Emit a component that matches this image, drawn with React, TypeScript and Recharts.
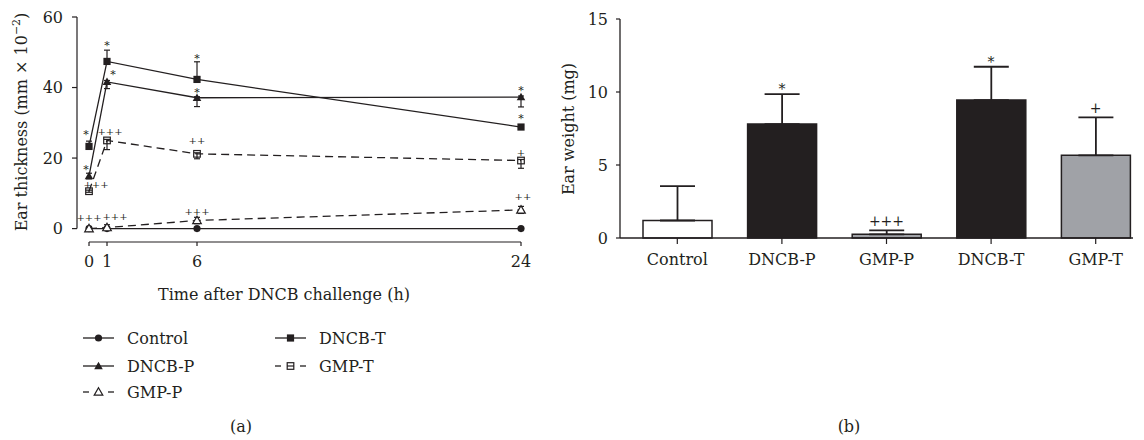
import React from "react";
import {
  LineChart,
  Line,
  XAxis,
  YAxis,
  ErrorBar,
  LabelList,
  ReferenceLine,
  ComposedChart,
  Bar,
  Cell,
} from "recharts";

const FONT = '"DejaVu Serif", "Liberation Serif", serif';
const INK = "#231f20";
const GREY = "#a0a2a7";

// (a) ear thickness, mm x 10^-2
const hours = [0, 1, 6, 24];
const thicknessTicks = [0, 20, 40, 60];

const controlThickness = [0, 0, 0, 0];
const dncbPThickness = [14.9, 41.6, 37.1, 37.3];
const gmpPThickness = [0, 0.3, 2.3, 5.3];
const dncbTThickness = [23.3, 47.4, 42.3, 28.8];
const gmpTThickness = [10.6, 25.0, 21.2, 19.3];

// error as [below, above]
const controlThicknessErr = [[0, 0], [0, 0], [0, 0], [0, 0]];
const dncbPThicknessErr = [[0.8, 0.8], [1.9, 0.4], [2.5, 0.3], [2.8, 0.3]];
const gmpPThicknessErr = [[0.6, 0.6], [0.8, 0.8], [0.9, 0.9], [1.0, 1.0]];
const dncbTThicknessErr = [[0.3, 1.5], [0.3, 3.2], [0.3, 5.0], [0.4, 0.4]];
const gmpTThicknessErr = [[0.3, 0.3], [2.6, 0.3], [1.4, 0.3], [2.2, 0.3]];

const controlMarks = ["", "", "", ""];
const dncbPMarks = ["*", "*", "*", "*"];
const gmpPMarks = ["+++", "+++", "+++", "++"];
const dncbTMarks = ["*", "*", "*", "*"];
const gmpTMarks = ["+++", "+++", "++", "+"];

// (b) ear weight, mg
const groups = ["Control", "DNCB-P", "GMP-P", "DNCB-T", "GMP-T"];
const weightTicks = [0, 5, 10, 15];
const weightMean = [1.2, 7.8, 0.25, 9.45, 5.66];
const weightErr = [2.35, 2.05, 0.27, 2.28, 2.6];
const weightMarks = ["", "*", "+++", "*", "+"];

// styling, not data
const barFills = ["#ffffff", INK, GREY, INK, GREY];
// annotation placement relative to each point, px
const markOffsets: Record<string, number[][]> = {
  control: [[0, 0], [0, 0], [0, 0], [0, 0]],
  dncbP: [[-3, -10], [6, -10], [0, -8], [0, -10]],
  gmpP: [[0, -11], [8, -11], [0, -9], [2, -13]],
  dncbT: [[-3, -15], [0, -19], [0, -24], [0, -12]],
  gmpT: [[7, -7], [3, -9], [0, -13], [0, -8]],
};

type Kind = "circle" | "triangle" | "triangleOpen" | "square" | "squareOpen";

interface Series {
  key: string;
  name: string;
  mean: number[];
  err: number[][];
  marks: string[];
  dashed: boolean;
  marker: Kind;
}

const series: Series[] = [
  { key: "control", name: "Control", mean: controlThickness, err: controlThicknessErr, marks: controlMarks, dashed: false, marker: "circle" },
  { key: "dncbP", name: "DNCB-P", mean: dncbPThickness, err: dncbPThicknessErr, marks: dncbPMarks, dashed: false, marker: "triangle" },
  { key: "gmpP", name: "GMP-P", mean: gmpPThickness, err: gmpPThicknessErr, marks: gmpPMarks, dashed: true, marker: "triangleOpen" },
  { key: "dncbT", name: "DNCB-T", mean: dncbTThickness, err: dncbTThicknessErr, marks: dncbTMarks, dashed: false, marker: "square" },
  { key: "gmpT", name: "GMP-T", mean: gmpTThickness, err: gmpTThicknessErr, marks: gmpTMarks, dashed: true, marker: "squareOpen" },
];

const legendColumns = [["control", "dncbP", "gmpP"], ["dncbT", "gmpT"]];

const thicknessData = hours.map((h, i) => {
  const row: Record<string, any> = { hour: h };
  series.forEach((s) => {
    row[s.key] = s.mean[i];
    row[s.key + "Err"] = s.err[i];
  });
  return row;
});

const weightData = groups.map((g, i) => ({
  group: g,
  weight: weightMean[i],
  weightErr: [0, weightErr[i]],
  capTop: weightMean[i] + weightErr[i],
  mark: weightMarks[i],
}));

const X_MIN = -0.667;
const Y_MIN = -3.8;

function Marker({ kind, cx, cy }: { kind: Kind; cx: number; cy: number }) {
  const tri = `M${cx},${cy - 4.3}L${cx + 4.3},${cy + 3.2}L${cx - 4.3},${cy + 3.2}Z`;
  switch (kind) {
    case "circle":
      return <circle cx={cx} cy={cy} r={3.6} fill={INK} />;
    case "triangle":
      return <path d={tri} fill={INK} />;
    case "triangleOpen":
      return <path d={tri} fill="#fff" stroke={INK} strokeWidth={1.2} />;
    case "square":
      return <rect x={cx - 3.6} y={cy - 3.6} width={7.2} height={7.2} fill={INK} />;
    default:
      return <rect x={cx - 3.3} y={cy - 3.3} width={6.6} height={6.6} fill="none" stroke={INK} strokeWidth={1.2} />;
  }
}

function ThicknessLegend() {
  const colX = [83, 275];
  const rowY = [338, 366, 392];
  return (
    <svg width={560} height={440} style={{ position: "absolute", left: 0, top: 0, pointerEvents: "none" }}>
      {legendColumns.map((col, ci) =>
        col.map((key, ri) => {
          const s = series.find((d) => d.key === key)!;
          const x = colX[ci];
          const y = rowY[ri];
          return (
            <g key={key}>
              {s.dashed ? (
                <>
                  <line x1={x} x2={x + 6} y1={y} y2={y} stroke={INK} strokeWidth={1.3} />
                  <line x1={x + 25} x2={x + 31} y1={y} y2={y} stroke={INK} strokeWidth={1.3} />
                  {s.marker === "squareOpen" && (
                    <line x1={x + 12} x2={x + 19} y1={y} y2={y} stroke={INK} strokeWidth={1.2} />
                  )}
                </>
              ) : (
                <line x1={x} x2={x + 31} y1={y} y2={y} stroke={INK} strokeWidth={1.3} />
              )}
              <Marker kind={s.marker} cx={x + 15.5} cy={y} />
              <text x={x + 44} y={y + 5.5} fontSize={16} fill={INK} fontFamily={FONT}>
                {s.name}
              </text>
            </g>
          );
        })
      )}
      <text x={241} y={432} textAnchor="middle" fontSize={16} fill={INK} fontFamily={FONT}>
        (a)
      </text>
    </svg>
  );
}

function ThicknessChart() {
  return (
    <LineChart
      width={560}
      height={310}
      data={thicknessData}
      margin={{ top: 17, right: 39, left: 17, bottom: 38 }}
      style={{ position: "absolute", left: 0, top: 0 }}
    >
      <XAxis
        dataKey="hour"
        type="number"
        domain={[X_MIN, 24]}
        ticks={hours}
        height={30}
        axisLine={false}
        tickLine={{ stroke: INK, strokeWidth: 1.2 }}
        tickSize={4}
        tickMargin={10}
        tick={{ fill: INK, fontSize: 16, fontFamily: FONT }}
        label={{
          content: (p: any) => {
            const vb = p.viewBox;
            return (
              <text x={vb.x + vb.width / 2 - 15} y={vb.y + 58} textAnchor="middle" fontSize={16} fill={INK} fontFamily={FONT}>
                Time after DNCB challenge (h)
              </text>
            );
          },
        }}
      />
      <YAxis
        type="number"
        domain={[Y_MIN, 60]}
        ticks={thicknessTicks}
        width={60}
        axisLine={false}
        tickLine={{ stroke: INK, strokeWidth: 1.2 }}
        tickSize={5}
        tickMargin={9}
        tick={{ fill: INK, fontSize: 16, fontFamily: FONT }}
        label={{
          content: () => (
            <text transform="translate(27,122) rotate(-90)" textAnchor="middle" fontSize={16} fill={INK} fontFamily={FONT}>
              Ear thickness (mm × 10
              <tspan dy={-7} fontSize={11}>−2</tspan>
              <tspan dy={7}>)</tspan>
            </text>
          ),
        }}
      />
      <ReferenceLine segment={[{ x: X_MIN, y: 0 }, { x: X_MIN, y: 60 }]} stroke={INK} strokeWidth={1.2} />
      <ReferenceLine segment={[{ x: 0, y: Y_MIN }, { x: 24, y: Y_MIN }]} stroke={INK} strokeWidth={1.2} />
      {series.map((s) => (
        <Line
          key={s.key}
          dataKey={s.key}
          name={s.name}
          type="linear"
          stroke={INK}
          strokeWidth={1.3}
          strokeDasharray={s.dashed ? "8 5" : undefined}
          isAnimationActive={false}
          activeDot={false}
          dot={(p: any) => <Marker key={`${s.key}-${p.index}`} kind={s.marker} cx={p.cx} cy={p.cy} />}
        >
          <ErrorBar dataKey={s.key + "Err"} width={3} stroke={INK} strokeWidth={1.2} direction="y" />
          <LabelList
            dataKey={s.key}
            content={(p: any) => {
              const text = s.marks[p.index];
              if (!text) return null;
              const [dx, dy] = markOffsets[s.key][p.index];
              const star = text === "*";
              return (
                <text
                  x={p.x + dx}
                  y={p.y + dy + (star ? 6.5 : 3.5)}
                  textAnchor="middle"
                  fontSize={star ? 11 : 10}
                  fill={INK}
                  fontFamily={FONT}
                >
                  {text}
                </text>
              );
            }}
          />
        </Line>
      ))}
    </LineChart>
  );
}

function WeightChart() {
  return (
    <ComposedChart
      width={604}
      height={300}
      data={weightData}
      margin={{ top: 19, right: 11, left: 10, bottom: 32 }}
      style={{ position: "absolute", left: 540, top: 0 }}
    >
      <XAxis
        dataKey="group"
        type="category"
        padding={{ left: 5, right: -15 }}
        height={30}
        axisLine={{ stroke: INK, strokeWidth: 1.3 }}
        tickLine={{ stroke: INK, strokeWidth: 1.2 }}
        tickSize={6}
        tickMargin={10}
        tick={{ fill: INK, fontSize: 16, fontFamily: FONT }}
      />
      <YAxis
        type="number"
        domain={[0, 15]}
        ticks={weightTicks}
        width={70}
        axisLine={{ stroke: INK, strokeWidth: 1.3 }}
        tickLine={{ stroke: INK, strokeWidth: 1.2 }}
        tickSize={4}
        tickMargin={8}
        tick={{ fill: INK, fontSize: 16, fontFamily: FONT }}
        label={{
          content: () => (
            <text transform="translate(34,129) rotate(-90)" textAnchor="middle" fontSize={16} fill={INK} fontFamily={FONT}>
              Ear weight (mg)
            </text>
          ),
        }}
      />
      <Bar dataKey="weight" barSize={69} stroke={INK} strokeWidth={1.5} isAnimationActive={false}>
        {weightData.map((d, i) => (
          <Cell key={d.group} fill={barFills[i]} />
        ))}
        <ErrorBar dataKey="weightErr" width={17.5} stroke={INK} strokeWidth={1.8} direction="y" />
      </Bar>
      <Line
        dataKey="capTop"
        stroke="none"
        dot={false}
        activeDot={false}
        isAnimationActive={false}
      >
        <LabelList
          dataKey="mark"
          content={(p: any) => {
            const text = p.value;
            if (!text) return null;
            const base = text === "*" ? 0 : -4;
            return (
              <text x={p.x} y={p.y + base} textAnchor="middle" fontSize={14} fill={INK} fontFamily={FONT}>
                {text}
              </text>
            );
          }}
        />
      </Line>
    </ComposedChart>
  );
}

export default function App() {
  return (
    <div style={{ position: "absolute", left: 0, top: 0, width: 1144, height: 440, background: "#fff", fontFamily: FONT }}>
      <ThicknessChart />
      <ThicknessLegend />
      <WeightChart />
      <svg width={1144} height={440} style={{ position: "absolute", left: 0, top: 0, pointerEvents: "none" }}>
        <text x={849} y={432} textAnchor="middle" fontSize={16} fill={INK} fontFamily={FONT}>
          (b)
        </text>
      </svg>
    </div>
  );
}
